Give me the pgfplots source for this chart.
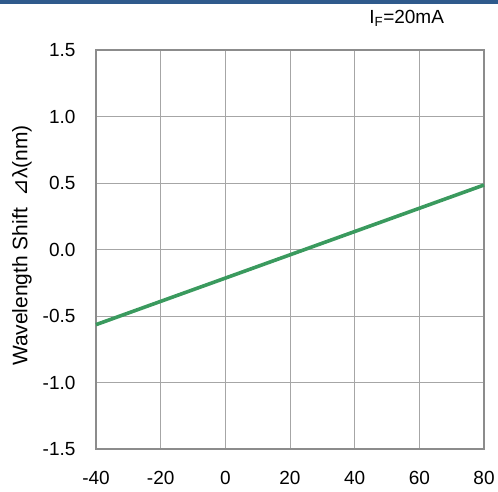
\documentclass[border=0pt]{standalone}
\usepackage{pgfplots}
\pgfplotsset{compat=1.18}
\usepackage{fontspec}
\setmainfont{Liberation Sans}
\newfontfamily\dejavu{DejaVu Sans}
\definecolor{gridc}{HTML}{A6A6A6}
\definecolor{framec}{HTML}{8C8C8C}
\definecolor{linec}{HTML}{3A9A5E}
\definecolor{barc}{HTML}{2F5A8C}
\begin{document}
\begin{tikzpicture}[x=1pt,y=1pt]
\useasboundingbox (-96,-42) rectangle (402,449);
\fill[barc] (-96,445) rectangle (402,449);
\begin{axis}[
  at={(0,0)}, anchor=south west,
  scale only axis, width=388pt, height=399pt,
  xmin=-40, xmax=80, ymin=-1.5, ymax=1.5,
  xtick={-40,-20,0,20,40,60,80},
  xticklabels={-40,-20,0,20,40,60,80},
  ytick={-1.5,-1,-0.5,0,0.5,1,1.5},
  yticklabels={-1.5,-1.0,-0.5,0.0,0.5,1.0,1.5},
  grid=major,
  major grid style={gridc, line width=0.8pt},
  axis line style={framec, line width=1.8pt},
  tick style={draw=none},
  ticklabel style={font=\fontsize{19}{22}\selectfont, text=black},
  xticklabel style={yshift=-19pt},
  yticklabel style={xshift=-17pt},
  ylabel={Wavelength Shift\ \ {\dejavu ⊿}λ(nm)},
  ylabel style={font=\fontsize{21}{24}\selectfont, at={(rel axis cs:0,0.5)}, anchor=center, yshift=74pt, xshift=4pt},
  clip=false,
]
\addplot[linec, line width=3.6pt] coordinates {(-40,-0.565) (80,0.485)};
\node[anchor=east, font=\fontsize{19}{22}\selectfont] at (rel axis cs:0.906,1.08) {I\textsubscript{F}=20mA};
\end{axis}
\end{tikzpicture}
\end{document}
